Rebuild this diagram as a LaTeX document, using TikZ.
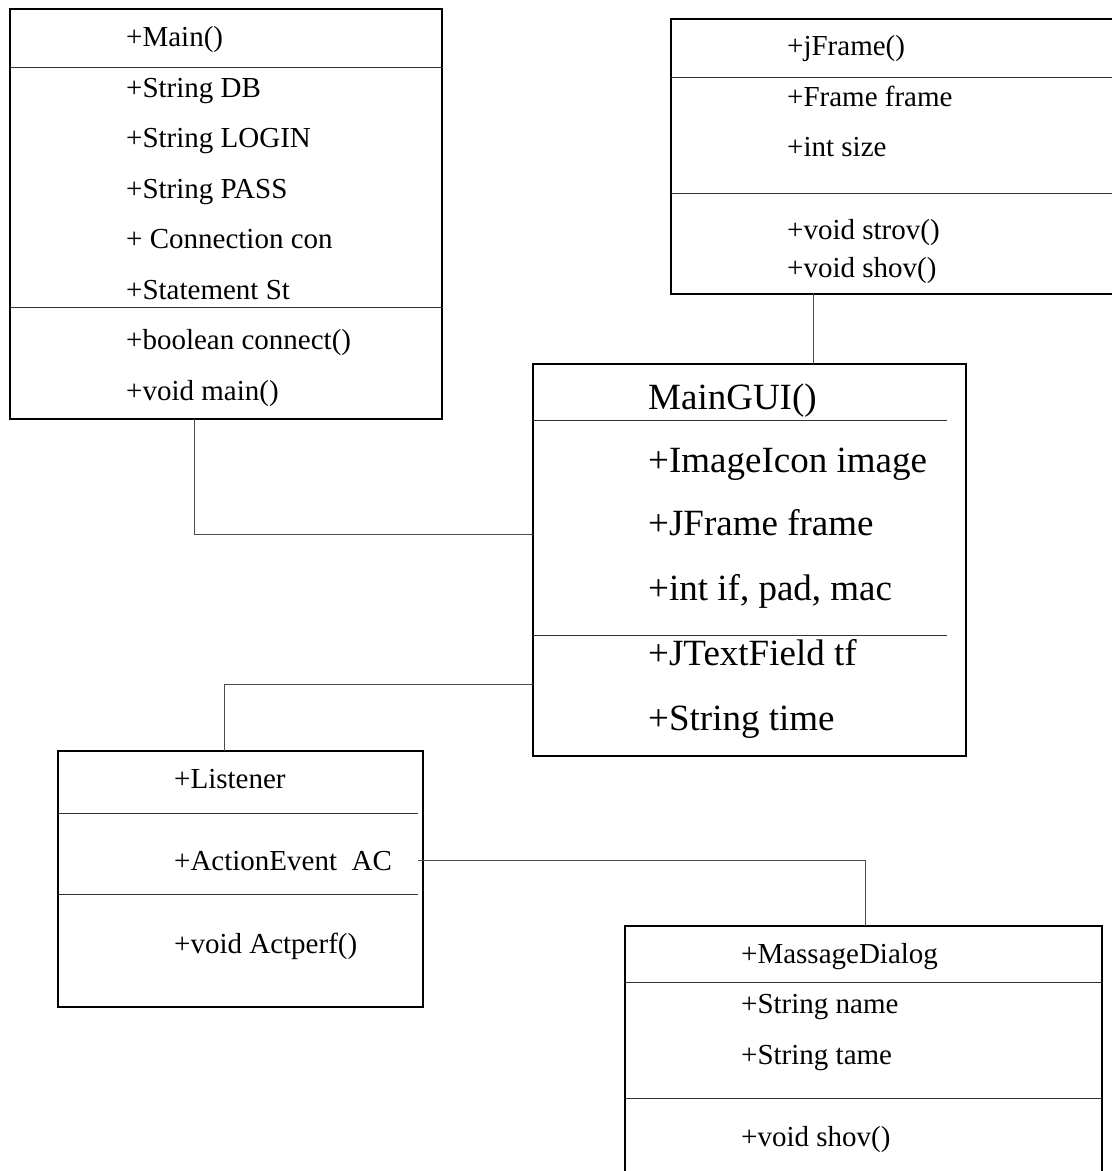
\documentclass[tikz,border=0pt]{standalone}
\usepackage{fontspec}
\setmainfont{Liberation Serif}
\begin{document}
\begin{tikzpicture}[x=1pt,y=-1pt,
  classbox/.style={draw=black,line width=1.6pt,rectangle,inner sep=0pt,outer sep=0pt,anchor=north west},
  divider/.style={draw=black!80,line width=1pt},
  conn/.style={draw=black!70,line width=1pt},
  member/.style={anchor=base west,inner sep=0pt,font=\fontsize{29}{30}\selectfont},
  bigmember/.style={anchor=base west,inner sep=0pt,font=\fontsize{37}{38}\selectfont}]
\clip (0,0) rectangle (1112,1171);

% class boxes
\node[classbox,minimum width=432pt,minimum height=410pt] (main) at (10,9) {};
\node[classbox,minimum width=460pt,minimum height=275pt] (jfr) at (671,19) {};
\node[classbox,minimum width=433pt,minimum height=392pt] (gui) at (533,364) {};
\node[classbox,minimum width=365pt,minimum height=256pt] (lis) at (58,751) {};
\node[classbox,minimum width=477pt,minimum height=260pt] (dlg) at (625,926) {};

% compartment separators
\draw[divider] (10,67) -- (442,67);
\draw[divider] (10,307) -- (442,307);
\draw[divider] (671,77) -- (1112,77);
\draw[divider] (671,193) -- (1112,193);
\draw[divider] (533,420) -- (947,420);
\draw[divider] (533,635) -- (947,635);
\draw[divider] (58,813) -- (418,813);
\draw[divider] (58,894) -- (418,894);
\draw[divider] (625,982) -- (1102,982);
\draw[divider] (625,1098) -- (1102,1098);

% Main
\node[member] (mainName) at (126,46) {+Main()};
\node[member] (mainA1) at (126,97) {+String DB};
\node[member] (mainA2) at (126,147) {+String LOGIN};
\node[member] (mainA3) at (126,198) {+String PASS};
\node[member] (mainA4) at (126,248) {+ Connection con};
\node[member] (mainA5) at (126,299) {+Statement St};
\node[member] (mainM1) at (126,349) {+boolean connect()};
\node[member] (mainM2) at (126,400) {+void main()};

% jFrame
\node[member] (jfrName) at (787,55) {+jFrame()};
\node[member] (jfrA1) at (787,106) {+Frame frame};
\node[member] (jfrA2) at (787,156) {+int size};
\node[member] (jfrM1) at (787,239) {+void strov()};
\node[member] (jfrM2) at (787,277) {+void shov()};

% MainGUI
\node[bigmember] (guiName) at (648,409) {MainGUI()};
\node[bigmember] (guiA1) at (648,472) {+ImageIcon image};
\node[bigmember] (guiA2) at (648,535) {+JFrame frame};
\node[bigmember] (guiA3) at (648,600) {+int if, pad, mac};
\node[bigmember] (guiA4) at (648,665) {+JTextField tf};
\node[bigmember] (guiA5) at (648,730) {+String time};

% Listener
\node[member] (lisName) at (174,788) {+Listener};
\node[member] (lisA1) at (174,870) {+ActionEvent\ \ AC};
\node[member] (lisM1) at (174,953) {+void Actperf()};

% MassageDialog
\node[member] (dlgName) at (741,963) {+MassageDialog};
\node[member] (dlgA1) at (741,1013) {+String name};
\node[member] (dlgA2) at (741,1064) {+String tame};
\node[member] (dlgM1) at (741,1146) {+void shov()};

% associations
\coordinate (mainOut) at ([xshift=184pt]main.south west);
\draw[conn] (mainOut) |- ([yshift=26pt]gui.west);
\coordinate (jfrOut) at ([xshift=142pt]jfr.south west);
\draw[conn] (jfrOut) -- (jfrOut |- gui.north);
\draw[conn] ([yshift=-124pt]gui.west) -| ([xshift=166pt]lis.north west);
\coordinate (lisOut) at ([xshift=-5pt,yshift=19pt]lis.east);
\draw[conn] (lisOut) -| ([xshift=240pt]dlg.north west);
\end{tikzpicture}
\end{document}
